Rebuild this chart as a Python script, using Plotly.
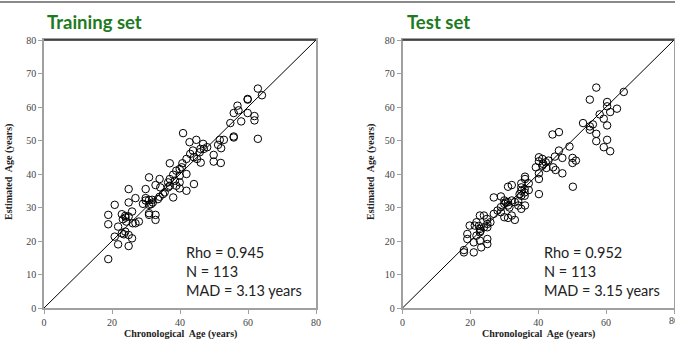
import plotly.graph_objects as go

# ---- data ----
train_chrono = [62.9, 64.1, 56.9, 59.9, 59.9, 55.8, 59.9, 57.2, 58.0, 54.8, 61.9, 61.9, 62.9, 55.8, 55.8,
                40.9, 44.8, 42.8, 46.8, 48.0, 46.0, 43.8, 45.8, 51.2, 51.7, 52.9, 52.1, 49.9, 49.9, 52.0,
                46.1, 44.1, 41.9, 40.7, 37.0, 38.9, 39.9, 39.9, 41.9, 38.0, 37.0, 30.9, 34.0, 32.8, 34.2,
                39.9, 38.9, 44.1, 41.9, 39.9, 37.0, 38.0, 35.0, 34.0, 45.0, 43.0, 47.0, 40.5, 36.5, 38.5,
                29.9, 24.9, 26.9, 29.9, 30.9, 31.8, 29.9, 29.1, 30.9, 32.0, 20.8, 24.9, 30.9, 30.9, 32.8,
                32.8, 18.9, 18.9, 22.9, 23.9, 25.9, 24.9, 23.2, 24.2, 26.1, 27.9, 26.9, 21.8, 20.8, 22.9,
                23.9, 24.9, 25.9, 21.8, 24.9, 18.9, 33.5, 31.5, 23.5, 24.0, 35.5, 36.5]
train_est = [65.5, 63.5, 60.4, 62.4, 62.2, 58.2, 58.2, 59.0, 55.7, 55.2, 57.3, 56.0, 50.5, 51.2, 50.9,
             52.2, 50.2, 49.5, 49.0, 48.0, 47.5, 47.0, 46.5, 48.7, 50.2, 50.2, 47.7, 45.7, 43.7, 43.3,
             43.4, 45.0, 44.5, 43.2, 43.2, 41.0, 41.5, 39.5, 40.0, 39.8, 38.5, 39.0, 38.5, 36.7, 36.0,
             37.5, 36.5, 37.0, 35.0, 35.7, 36.5, 33.0, 34.0, 33.2, 44.5, 46.0, 47.5, 42.0, 37.5, 38.0,
             35.5, 35.5, 32.8, 32.8, 32.3, 32.3, 32.1, 31.1, 30.8, 31.5, 30.8, 31.5, 28.3, 27.8, 27.8,
             26.3, 27.8, 25.0, 28.0, 27.5, 28.8, 27.3, 26.5, 25.8, 25.3, 25.8, 25.3, 24.3, 21.3, 22.3,
             22.8, 21.8, 20.8, 19.0, 18.5, 14.6, 32.5, 31.0, 22.0, 27.0, 34.5, 36.0]

test_chrono = [57.1, 65.2, 55.2, 60.3, 60.3, 63.2, 61.2, 58.1, 59.3, 53.2, 56.1, 55.2, 55.2, 60.3, 57.1,
               57.1, 60.3, 59.3, 61.2, 44.2, 46.1, 49.2, 46.1, 44.9, 47.1, 50.1, 51.1, 50.1, 40.2, 41.2,
               40.2, 42.2, 41.2, 39.3, 42.4, 44.4, 45.1, 47.1, 40.2, 40.2, 36.1, 36.1, 37.2, 35.0, 50.2,
               31.1, 32.2, 35.0, 36.0, 37.2, 35.0, 40.2, 36.0, 35.0, 26.9, 29.0,
               30.0, 31.1, 32.2, 33.1, 34.1, 30.0, 31.1, 34.1, 36.1, 35.0, 29.0, 28.0, 26.9, 30.0, 31.1,
               32.2, 33.1, 29.0, 22.8, 24.0, 24.9, 25.9, 25.0, 21.8, 19.8, 21.3, 22.8, 24.0, 25.0, 22.8,
               21.8, 19.1, 19.1, 25.0, 22.8, 21.0, 25.0, 23.2, 18.1, 18.1, 21.0,
               23.0, 22.5, 30.5, 36.0, 41.5, 43.0, 34.5, 31.5]
test_est = [65.8, 64.5, 62.2, 61.5, 60.2, 59.5, 58.5, 57.8, 56.5, 55.2, 54.8, 54.2, 53.2, 54.5, 52.0,
            49.8, 50.2, 48.0, 46.8, 51.8, 52.5, 48.2, 47.0, 45.2, 44.8, 44.8, 44.0, 43.3, 45.0, 44.5,
            43.8, 43.5, 42.5, 42.0, 41.8, 42.0, 41.2, 40.2, 40.2, 38.5, 39.2, 38.5, 37.2, 37.2, 36.2,
            36.2, 36.7, 36.0, 35.5, 35.2, 35.0, 34.0, 33.5, 33.5, 33.0, 33.3,
            32.1, 31.6, 32.1, 31.6, 31.9, 31.1, 30.6, 30.6, 30.6, 29.6, 30.1, 29.1, 28.1, 27.1, 26.9,
            27.6, 26.3, 28.6, 27.6, 27.6, 26.6, 25.6, 25.1, 25.6, 24.6, 24.6, 23.6, 24.1, 24.1, 22.6,
            21.6, 22.1, 20.6, 20.6, 20.1, 19.6, 19.1, 18.1, 17.3, 16.6, 16.6,
            23.0, 24.5, 31.5, 34.5, 43.0, 44.0, 34.0, 30.0]

identity = [0, 80]
tick_vals_x = [0, 20, 40, 60, 80]
tick_vals_y = [0, 10, 20, 30, 40, 50, 60, 70, 80]

panel_titles = ["Training set", "Test set"]
stats_text = ["Rho = 0.945<br>N = 113<br>MAD = 3.13 years",
              "Rho = 0.952<br>N = 113<br>MAD = 3.15 years"]

W, H = 675, 340
def px(x): return x / W
def py(y): return 1 - y / H

fig = go.Figure()
marker = dict(symbol="circle-open", size=7.5, color="black", line=dict(width=1, color="black"))
fig.add_trace(go.Scatter(x=identity, y=identity, mode="lines", line=dict(color="black", width=1),
                         xaxis="x", yaxis="y", showlegend=False, hoverinfo="skip"))
fig.add_trace(go.Scatter(x=train_chrono, y=train_est, mode="markers", marker=marker,
                         xaxis="x", yaxis="y", showlegend=False))
fig.add_trace(go.Scatter(x=identity, y=identity, mode="lines", line=dict(color="black", width=1),
                         xaxis="x2", yaxis="y2", showlegend=False, hoverinfo="skip"))
fig.add_trace(go.Scatter(x=test_chrono, y=test_est, mode="markers", marker=marker,
                         xaxis="x2", yaxis="y2", showlegend=False))

tickfont = dict(family="Liberation Serif, Times New Roman, serif", size=10, color="#444")
ax_common = dict(range=[0, 80], showgrid=False, zeroline=False, showline=True, linecolor="#a0a0a0",
                 linewidth=1.5, mirror=True, ticks="outside", ticklen=4, tickcolor="#a0a0a0",
                 tickfont=tickfont, fixedrange=True, automargin=False)

ydom = [py(308), py(40)]
fig.update_layout(
    width=W, height=H, margin=dict(l=0, r=0, t=0, b=0),
    paper_bgcolor="white", plot_bgcolor="white",
    xaxis=dict(domain=[px(44), px(316)], anchor="y", tickvals=tick_vals_x, **ax_common),
    yaxis=dict(domain=ydom, anchor="x", tickvals=tick_vals_y, **ax_common),
    xaxis2=dict(domain=[px(402.5), px(674)], anchor="y2", tickvals=tick_vals_x, **ax_common),
    yaxis2=dict(domain=ydom, anchor="x2", tickvals=tick_vals_y, **ax_common),
)

shapes = [dict(type="line", xref="paper", yref="paper", x0=0, x1=1, y0=py(2), y1=py(2),
               line=dict(color="#8a8a8a", width=2))]
for xa, ya in [("x", "y"), ("x2", "y2")]:
    shapes.append(dict(type="line", xref=f"{xa} domain", yref=f"{ya} domain", x0=0, x1=1, y0=1, y1=1,
                       line=dict(color="#222", width=1.5)))
fig.update_layout(shapes=shapes)

title_font = dict(family="Lato, Open Sans, sans-serif", size=18.5, color="#1e7a1e")
stat_font = dict(family="Lato, Open Sans, sans-serif", size=14.5, color="#222")
axt_font = dict(family="Liberation Serif, Times New Roman, serif", size=10, color="#222")
ann = []
for i, (tx, sx, cx, yx) in enumerate([(45, 184, 180, 9), (405, 542, 538, 371)]):
    ann.append(dict(text=f"<b>{panel_titles[i]}</b>", x=px(tx), y=py(22), xref="paper", yref="paper",
                    xanchor="left", yanchor="middle", showarrow=False, font=title_font))
    ann.append(dict(text=stats_text[i], x=px(sx), y=py(301), xref="paper", yref="paper",
                    xanchor="left", yanchor="bottom", align="left", showarrow=False, font=stat_font))
    ann.append(dict(text="<b>Chronological  Age (years)</b>", x=px(cx), y=py(334), xref="paper",
                    yref="paper", xanchor="center", yanchor="middle", showarrow=False, font=axt_font))
    ann.append(dict(text="<b>Estimated  Age (years)</b>", x=px(yx), y=py(172),
                    xref="paper", yref="paper", xanchor="center", yanchor="middle", textangle=-90,
                    showarrow=False, font=axt_font))
# right panel's last x tick label, partly cut off at the page edge as in the reference
ann.append(dict(text=str(tick_vals_x[-1]), x=80, y=0, xref="x2", yref="y2", xanchor="center",
                yanchor="top", yshift=-5, showarrow=False, font=tickfont))
fig.update_layout(annotations=ann)

fig.write_html("out.html", config={"displayModeBar": False},
               post_script="document.body.style.margin='0';document.body.style.overflow='hidden';")
